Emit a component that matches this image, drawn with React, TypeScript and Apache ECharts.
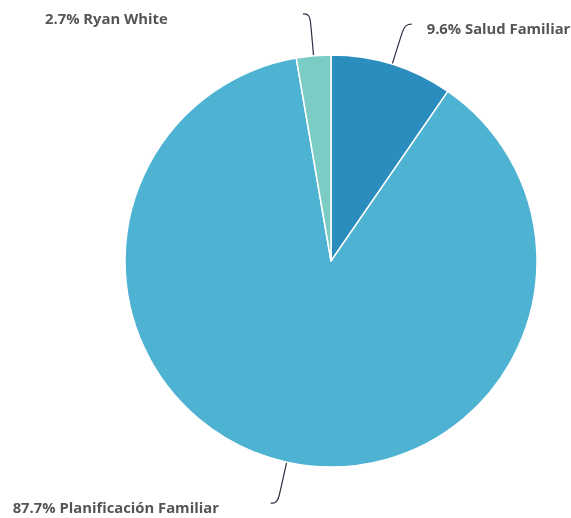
import { useEffect, useRef } from 'react';
import * as echarts from 'echarts';

const categories = ['Salud Familiar', 'Planificación Familiar', 'Ryan White'];
const values = [9.6, 87.7, 2.7];
const colors = ['#2b8cbe', '#4eb3d3', '#7bccc4'];

export default function App() {
  const ref = useRef<HTMLDivElement>(null);
  useEffect(() => {
    const chart = echarts.init(ref.current!, null, { renderer: 'svg' });
    chart.setOption({
      animation: false,
      series: [
        {
          type: 'pie',
          center: [331, 261],
          radius: 206,
          startAngle: 90,
          clockwise: true,
          data: categories.map((name, i) => ({
            name,
            value: values[i],
            itemStyle: { color: colors[i] },
          })),
          itemStyle: { borderColor: '#ffffff', borderWidth: 1.5 },
          label: {
            formatter: (p: any) => `{a|${p.value}% ${p.name}}`,
            width: 243,
            distanceToLabelLine: 15,
            rich: {
              a: {
                align: 'left',
                fontFamily: 'Open Sans',
                fontWeight: 'bold',
                fontSize: 14.8,
                color: '#555555',
                padding: [8, 0, 0, 0],
              },
            },
          },
          labelLine: {
            show: true,
            length: 42,
            length2: 7,
            smooth: 0.5,
            lineStyle: { color: '#2a3142', width: 1.2 },
          },
          emphasis: { disabled: true },
        },
      ],
    });
    return () => chart.dispose();
  }, []);
  return (
    <div
      ref={ref}
      style={{ position: 'fixed', left: 0, top: 0, width: 571, height: 518 }}
    />
  );
}
